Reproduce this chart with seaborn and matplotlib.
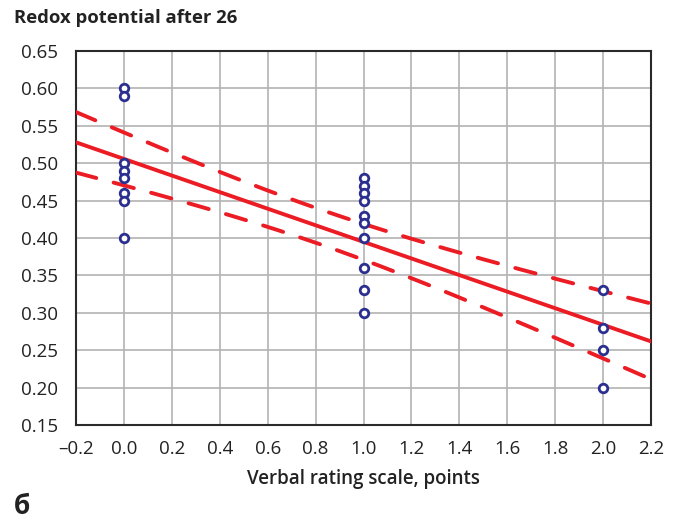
import numpy as np
import pandas as pd
import matplotlib
matplotlib.use("Agg")
import matplotlib.pyplot as plt
import seaborn as sns

# Verbal rating scale scores and redox potential measurements
x_zero = [0.0] * 8
y_zero = [0.60, 0.59, 0.50, 0.49, 0.48, 0.46, 0.45, 0.40]
x_one = [1.0] * 10
y_one = [0.48, 0.47, 0.46, 0.45, 0.43, 0.42, 0.40, 0.36, 0.33, 0.30]
x_two = [2.0] * 4
y_two = [0.33, 0.28, 0.25, 0.20]

x_ticks = [-0.2, 0.0, 0.2, 0.4, 0.6, 0.8, 1.0, 1.2, 1.4, 1.6, 1.8, 2.0, 2.2]
y_ticks = [0.15, 0.20, 0.25, 0.30, 0.35, 0.40, 0.45, 0.50, 0.55, 0.60, 0.65]

df = pd.DataFrame({"score": x_zero + x_one + x_two,
                   "redox": y_zero + y_one + y_two})

# Least-squares fit with a 90% confidence band for the mean
x = df["score"].to_numpy()
y = df["redox"].to_numpy()
n = len(x)
slope, intercept = np.polyfit(x, y, 1)
resid = y - (intercept + slope * x)
s = np.sqrt(np.sum(resid ** 2) / (n - 2))
sxx = np.sum((x - x.mean()) ** 2)
t90 = 1.7247  # t(0.95, df=20)
xs = np.linspace(-0.2, 2.2, 200)
fit = intercept + slope * xs
half = t90 * s * np.sqrt(1.0 / n + (xs - x.mean()) ** 2 / sxx)
fit_df = pd.DataFrame({"score": xs, "fit": fit, "lo": fit - half, "hi": fit + half})

sns.set_style("white")
plt.rcParams["font.family"] = ["Open Sans", "DejaVu Sans"]

fig = plt.figure(figsize=(6.78, 5.22), dpi=100)
ax = fig.add_axes([76 / 678, 1 - 425 / 522, 575 / 678, 374 / 522])

red = "#ec1c24"
navy = "#2b2f8f"

sns.lineplot(data=fit_df, x="score", y="fit", ax=ax, color=red, lw=2.8, zorder=3)
for col in ["lo", "hi"]:
    sns.lineplot(data=fit_df, x="score", y=col, ax=ax, color=red, lw=2.8, zorder=3)
    band = ax.lines[-1]
    band.set_dashes([5.4, 4.6])
    band.set_dash_capstyle("round")

sns.scatterplot(data=df, x="score", y="redox", ax=ax, marker="o", s=38,
                facecolor="white", edgecolor=navy, linewidth=2.0, zorder=4)

ax.set_xlim(-0.2, 2.2)
ax.set_ylim(0.15, 0.65)
ax.set_xticks(x_ticks)
ax.set_yticks(y_ticks)
ax.set_xticklabels([f"{v:.1f}".replace("-", "\u2013") for v in x_ticks])
ax.set_yticklabels([f"{v:.2f}" for v in y_ticks])
ax.grid(True, color="#b3b3b3", lw=1.2, zorder=0)
ax.set_axisbelow(True)
for sp in ax.spines.values():
    sp.set_visible(True)
    sp.set_color("#2a2a2a")
    sp.set_linewidth(1.5)
ax.tick_params(axis="both", direction="in", length=6, width=1.2, color="#2a2a2a",
               labelsize=13.5, labelcolor="#222222")
ax.tick_params(axis="x", pad=11)
ax.tick_params(axis="y", pad=13)
ax.set_xlabel("Verbal rating scale, points", fontsize=13.5, fontweight="semibold",
              color="#222222", labelpad=8)
ax.set_ylabel("")

fig.text(14 / 678, 1 - 18 / 522, "Redox potential after 26", fontsize=13.3,
         fontweight="bold", color="#222222", va="center", ha="left")
fig.text(14 / 678, 1 - 506 / 522, "б", fontsize=19, fontweight="bold",
         color="#222222", va="center", ha="left")

fig.savefig("out.png", dpi=100)
